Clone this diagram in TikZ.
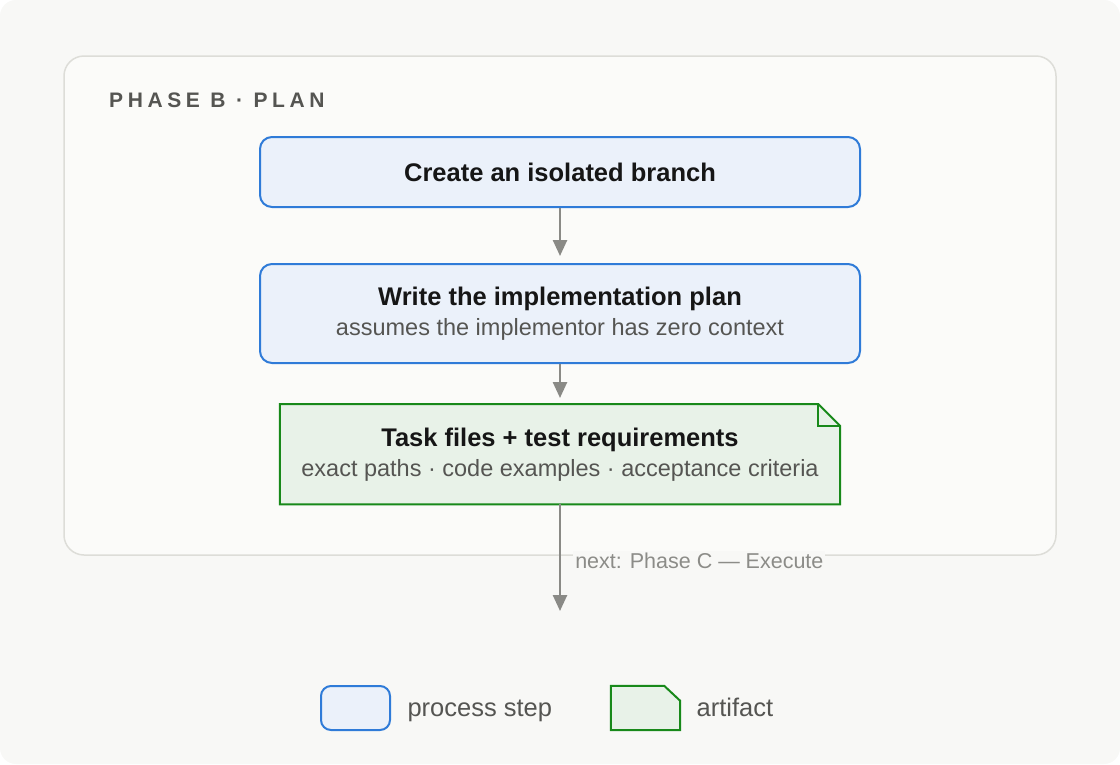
\documentclass[tikz,border=0pt]{standalone}
\usepackage{fontspec}
\setmainfont{Liberation Sans}
\usetikzlibrary{arrows.meta,positioning}
\definecolor{canvasbg}{HTML}{F8F8F6}
\definecolor{panelbg}{HTML}{FBFBF9}
\definecolor{panelline}{HTML}{DDDDD8}
\definecolor{stepblue}{HTML}{2F7BD8}
\definecolor{stepsoft}{HTML}{EBF1FA}
\definecolor{artgreen}{HTML}{18891A}
\definecolor{artsoft}{HTML}{E8F2E8}
\definecolor{flowgray}{HTML}{8A8A86}
\definecolor{inkdark}{HTML}{161616}
\definecolor{inksoft}{HTML}{555552}
\definecolor{inklight}{HTML}{8C8C88}
\pgfdeclarelayer{back}
\pgfdeclarelayer{mid}
\pgfsetlayers{back,mid,main}

\begin{document}
\begin{tikzpicture}[
  x=1pt,y=-1pt,
  every node/.style={align=center,text=inkdark,font=\fontsize{23.5}{30}\selectfont},
  process/.style={draw=stepblue,line width=2pt,rounded corners=12pt,fill=stepsoft,minimum width=600pt},
  artifact/.style={minimum width=560pt,minimum height=100pt},
  artline/.style={draw=artgreen,line width=2pt,fill=artsoft,line join=miter},
  keybox/.style={minimum width=69pt,minimum height=44pt},
  keytext/.style={text=inksoft,font=\fontsize{25.5}{30}\selectfont,text height=21pt,text depth=5pt},
  arrow/.style={-{Triangle[length=16pt,width=14pt]},line width=2.5pt,draw=flowgray}
]
\useasboundingbox (0,0) rectangle (1120,764);
\begin{pgfonlayer}{back}
  \fill[canvasbg,rounded corners=16pt] (0,0) rectangle (1120,764);
  \draw[panelline,line width=1.5pt,fill=panelbg,rounded corners=20pt] (64,56) rectangle (1056,555);
\end{pgfonlayer}

\node[anchor=base west,inner sep=0pt,text=inksoft,font=\fontsize{21}{24}\selectfont\bfseries\addfontfeature{LetterSpace=22}] (phase) at (109,107.5) {PHASE B · PLAN};

\node[process,minimum height=70pt] (branch) at (560,172) {\bfseries\fontsize{25.5}{30}\selectfont Create an isolated branch};
\node[process,minimum height=99pt,below=55pt of branch] (plan) {{\bfseries\fontsize{25.5}{30}\selectfont Write the implementation plan}\\{\color{inksoft}assumes the implementor has zero context}};
\node[artifact,below=40pt of plan] (tasks) {{\bfseries\fontsize{25.5}{30}\selectfont Task files + test requirements}\\{\color{inksoft}exact paths · code examples · acceptance criteria}};
\begin{pgfonlayer}{mid}
  \draw[artline] (tasks.north west) -- ([xshift=-22pt]tasks.north east) -- ([yshift=-22pt]tasks.north east) -- (tasks.south east) -- (tasks.south west) -- cycle;
  \draw[artline,fill=none] ([xshift=-22pt]tasks.north east) |- ([yshift=-22pt]tasks.north east);
\end{pgfonlayer}
\coordinate (next) at (560,611);

\draw[arrow,shorten >=7pt] (branch) -- (plan);
\draw[arrow,shorten >=6pt] (plan) -- (tasks);
\draw[arrow] (tasks) -- (next) node[pos=0.53,anchor=west,xshift=12pt,fill=canvasbg,inner sep=2pt,text=inklight,font=\fontsize{21.5}{26}\selectfont] (nextlbl) {next: Phase C — Execute};

% legend
\node[process,keybox,rounded corners=10pt] (keystep) at (355.5,708) {};
\node[keytext,right=13pt of keystep] (keysteplbl) {process step};
\node[keybox] (keyart) at (645.5,708) {};
\begin{pgfonlayer}{mid}
  \draw[artline] (keyart.north west) -- ([xshift=-16pt]keyart.north east) -- ([yshift=-15pt]keyart.north east) -- (keyart.south east) -- (keyart.south west) -- cycle;
\end{pgfonlayer}
\node[keytext,right=13pt of keyart] (keyartlbl) {artifact};
\end{tikzpicture}
\end{document}
